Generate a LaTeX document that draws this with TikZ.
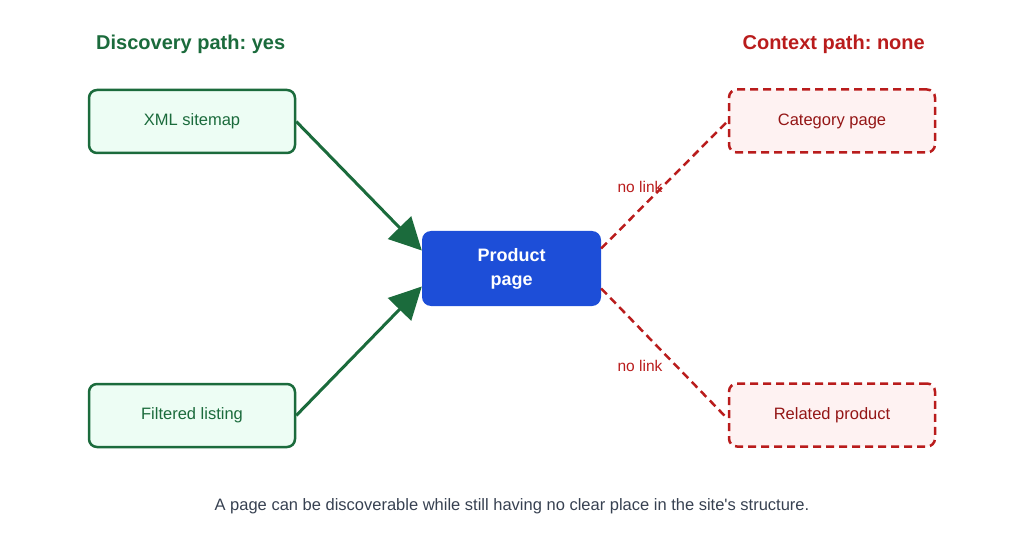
\documentclass[tikz,border=0pt]{standalone}
\usepackage{fontspec}
\setmainfont{Liberation Sans}
\usetikzlibrary{arrows.meta,positioning}
\definecolor{okgreen}{HTML}{1B6B3C}
\definecolor{okfill}{HTML}{EDFDF4}
\definecolor{prodblue}{HTML}{1D4ED8}
\definecolor{badred}{HTML}{B91C1C}
\definecolor{badfill}{HTML}{FEF2F2}
\definecolor{capgrey}{HTML}{374151}
\frenchspacing
\begin{document}
\begin{tikzpicture}[x=1pt,y=-1pt,
   found/.style={draw=okgreen,fill=okfill,line width=2.5pt,rounded corners=8pt,
     minimum width=206pt,minimum height=63pt,text=okgreen,font=\fontsize{16.5}{19}\selectfont},
   missing/.style={draw=badred,fill=badfill,line width=2.5pt,dashed,dash pattern=on 8pt off 5pt,
     rounded corners=8pt,minimum width=206pt,minimum height=63pt,text=badred!80!black,
     font=\fontsize{16.5}{19}\selectfont},
   target/.style={fill=prodblue,rounded corners=9pt,minimum width=179pt,minimum height=75pt,
     text=white,align=center,font=\bfseries\fontsize{18}{24}\selectfont},
   heading/.style={inner sep=0pt,font=\bfseries\fontsize{20}{24}\selectfont},
   crawl/.style={draw=okgreen,line width=3pt,-{Triangle[length=32pt,width=32pt]}},
   nolink/.style={draw=badred,line width=2.5pt,dashed,dash pattern=on 8pt off 5pt},
   tag/.style={text=badred,font=\fontsize{15.5}{18}\selectfont}]
   \useasboundingbox (0,0) rectangle (1024,537);
   % headings
   \node[heading,text=okgreen,anchor=west] (h_left) at (96,44) {Discovery path: yes};
   \node[heading,text=badred,anchor=east] (h_right) at (925,44) {Context path: none};
   % boxes
   \node[found] (sitemap) at (192,121.5) {XML sitemap};
   \node[found] (listing) at (192,415.5) {Filtered listing};
   \node[target] (product) at (511.5,268.5) {Product\\page};
   \node[missing] (category) at (832,121) {Category page};
   \node[missing] (related) at (832,415) {Related product};
   % connectors
   \draw[crawl] (sitemap.east) -- ([yshift=18pt]product.west);
   \draw[crawl] (listing.east) -- ([yshift=-18pt]product.west);
   \draw[nolink] ([yshift=20pt]product.east) -- (category.west);
   \draw[nolink] ([yshift=-20pt]product.east) -- ([yshift=-4pt]related.west);
   \node[tag] (tag_up) at (640,187) {no link};
   \node[tag] (tag_down) at (640,366) {no link};
   % caption
   \node[text=capgrey,font=\fontsize{16.5}{19}\selectfont] (caption) at (512,506)
     {A page can be discoverable while still having no clear place in the site\textquotesingle s structure.};
\end{tikzpicture}
\end{document}
